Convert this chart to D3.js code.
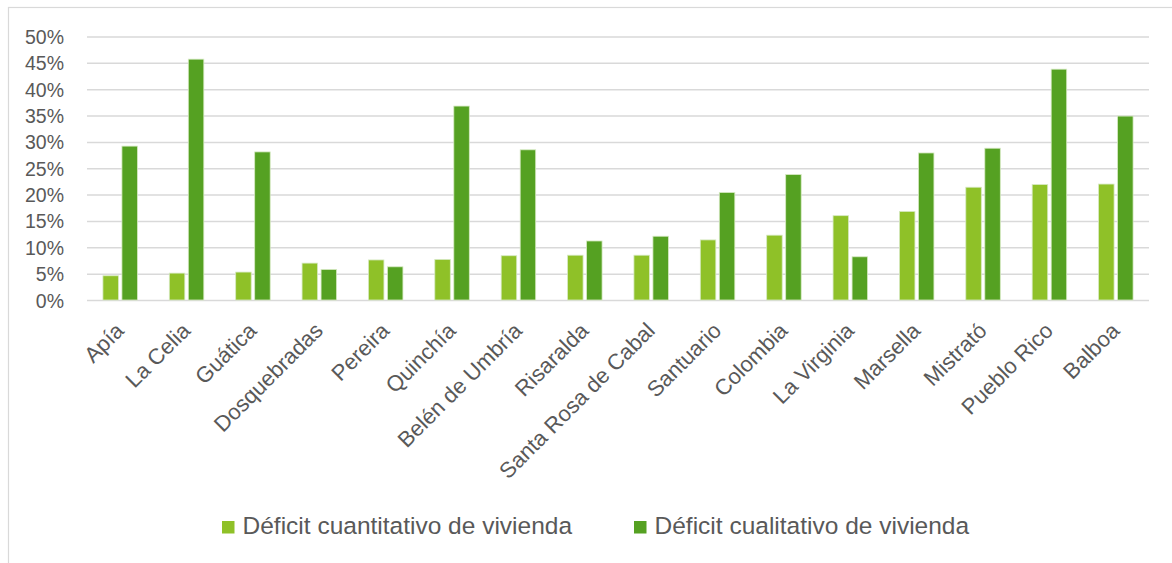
<!DOCTYPE html>
<html>
<head>
<meta charset="utf-8">
<script src="https://cdn.jsdelivr.net/npm/d3@7"></script>
<style>
  body { margin: 0; background: #fff; }
  text { font-family: "Liberation Sans", Arial, sans-serif; fill: #595959; }
</style>
</head>
<body>
<div id="chart"></div>
<script>
// data
var municipios = ["Apía", "La Celia", "Guática", "Dosquebradas", "Pereira", "Quinchía",
    "Belén de Umbría", "Risaralda", "Santa Rosa de Cabal", "Santuario", "Colombia",
    "La Virginia", "Marsella", "Mistrató", "Pueblo Rico", "Balboa"];
var cuantitativo = [4.6, 5.1, 5.3, 7.0, 7.6, 7.7, 8.4, 8.5, 8.5, 11.4, 12.3, 16.0, 16.8, 21.4, 21.9, 22.0];
var cualitativo = [29.2, 45.7, 28.1, 5.8, 6.3, 36.8, 28.5, 11.2, 12.1, 20.4, 23.8, 8.2, 27.9, 28.8, 43.8, 34.9];
var seriesNames = ["Déficit cuantitativo de vivienda", "Déficit cualitativo de vivienda"];
var yTicks = [0, 5, 10, 15, 20, 25, 30, 35, 40, 45, 50];

var colors = ["#8fc128", "#55a122"];

var attrs = {
    svgWidth: 1172,
    svgHeight: 563,
    marginTop: 36.5,
    marginLeft: 87,
    plotRight: 1149,
    plotBottom: 300
};

var svg = d3.select('#chart')
    .append('svg')
    .attr('width', attrs.svgWidth)
    .attr('height', attrs.svgHeight);

// chart frame
svg.append('rect')
    .attr('x', 8.5).attr('y', 7.5)
    .attr('width', 1200).attr('height', 700)
    .attr('fill', 'none')
    .attr('stroke', '#d9d9d9')
    .attr('stroke-width', 1.2);

var x = d3.scaleBand()
    .domain(municipios)
    .range([attrs.marginLeft, attrs.plotRight]);

var y = d3.scaleLinear()
    .domain([0, 50])
    .range([attrs.plotBottom, attrs.marginTop]);

// gridlines
var yAxis = d3.axisLeft(y)
    .tickValues(yTicks)
    .tickSize(-(attrs.plotRight - attrs.marginLeft))
    .tickFormat(function (d) { return d + '%'; });

var gy = svg.append('g')
    .attr('transform', 'translate(' + attrs.marginLeft + ',0)')
    .call(yAxis);
gy.select('.domain').remove();
gy.selectAll('.tick line')
    .attr('stroke', '#d9d9d9')
    .attr('stroke-width', 1.5);
gy.selectAll('.tick text')
    .attr('x', -23)
    .attr('dy', '0.36em')
    .style('font-family', '"Liberation Sans", Arial, sans-serif')
    .style('font-size', '19.5px')
    .attr('fill', '#595959');

// bars
var barW = 15.5, gap = 3.5;
var groups = svg.selectAll('.grp')
    .data(municipios)
    .enter().append('g')
    .attr('class', 'grp')
    .attr('transform', function (d) { return 'translate(' + (x(d) + x.bandwidth() / 2) + ',0)'; });

groups.append('rect')
    .attr('x', -barW - gap / 2)
    .attr('width', barW)
    .attr('y', function (d, i) { return y(cuantitativo[i]); })
    .attr('height', function (d, i) { return y(0) - y(cuantitativo[i]); })
    .attr('fill', colors[0])
    .attr('stroke', '#d6e9c2')
    .attr('stroke-width', 0.8);

groups.append('rect')
    .attr('x', gap / 2)
    .attr('width', barW)
    .attr('y', function (d, i) { return y(cualitativo[i]); })
    .attr('height', function (d, i) { return y(0) - y(cualitativo[i]); })
    .attr('fill', colors[1])
    .attr('stroke', '#d6e9c2')
    .attr('stroke-width', 0.8);

// category labels
svg.selectAll('.xlab')
    .data(municipios)
    .enter().append('text')
    .attr('class', 'xlab')
    .attr('text-anchor', 'end')
    .style('font-size', '22px')
    .attr('transform', function (d) {
        return 'translate(' + (x(d) + x.bandwidth() / 2 + 5) + ',332) rotate(-45)';
    })
    .text(function (d) { return d; });

// legend
var legendX = [222, 634];
var legend = svg.selectAll('.leg')
    .data(seriesNames)
    .enter().append('g')
    .attr('class', 'leg')
    .attr('transform', function (d, i) { return 'translate(' + legendX[i] + ',521)'; });

legend.append('rect')
    .attr('width', 12.5).attr('height', 12.5)
    .attr('fill', function (d, i) { return colors[i]; });

legend.append('text')
    .attr('x', 20.5).attr('y', 13.3)
    .style('font-size', '24.5px')
    .text(function (d) { return d; });
</script>
</body>
</html>
